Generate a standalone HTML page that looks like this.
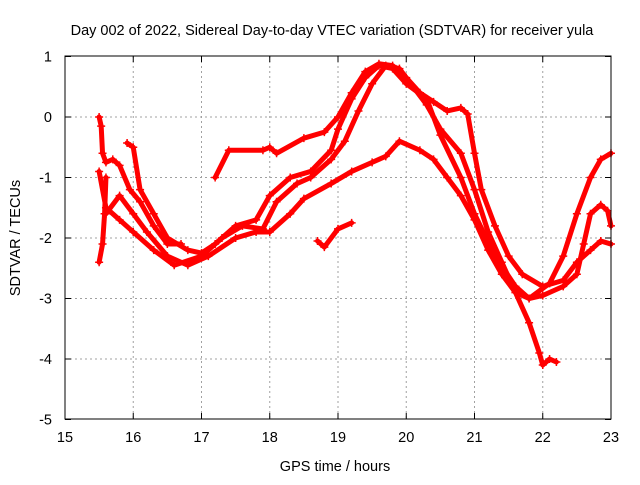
<!DOCTYPE html>
<html><head><meta charset="utf-8"><style>
body{margin:0;background:#fff;}
svg{font-family:"Liberation Sans",sans-serif;}
</style></head><body>
<svg id="chart" width="640" height="480">
<text x="332" y="35" font-size="14.5" text-anchor="middle">Day 002 of 2022, Sidereal Day-to-day VTEC variation (SDTVAR) for receiver yula</text>
<text x="335" y="471" font-size="14.5" text-anchor="middle">GPS time / hours</text>
<text x="20" y="238" font-size="14.5" text-anchor="middle" transform="rotate(-90 20 238)">SDTVAR / TECUs</text>
<g id="grid"></g>
<g id="ticks"></g>
<g id="marks"></g>
<rect x="65" y="56" width="546" height="363" fill="none" stroke="#000" stroke-width="1"/>
</svg>
<script>
const xTicks=[15,16,17,18,19,20,21,22,23];
const yTicks=[1,0,-1,-2,-3,-4,-5];
const traceA=[[17.2,-1.0],[17.4,-0.55],[17.9,-0.55],[18.0,-0.5],[18.1,-0.6],[18.5,-0.35],[18.8,-0.25],[19.0,0.0],[19.2,0.4],[19.4,0.75],[19.6,0.88],[19.8,0.85],[20.0,0.65],[20.2,0.4],[20.4,0.25],[20.6,0.1],[20.8,0.15],[20.9,0.05],[21.0,-0.6],[21.1,-1.2],[21.3,-1.8],[21.5,-2.3],[21.7,-2.6],[22.0,-2.8],[22.3,-2.7],[22.5,-2.4],[22.7,-2.2],[22.85,-2.05],[23.0,-2.1]];
const traceB=[[15.5,-0.9],[15.6,-1.5],[15.8,-1.7],[16.0,-1.9],[16.3,-2.2],[16.6,-2.45],[17.0,-2.3],[17.3,-2.0],[17.6,-1.8],[17.9,-1.85],[18.1,-1.4],[18.4,-1.1],[18.6,-1.0],[18.9,-0.7],[19.1,-0.4],[19.3,0.1],[19.5,0.55],[19.7,0.85],[19.9,0.8],[20.1,0.5],[20.3,0.2],[20.5,-0.2],[20.8,-0.6],[21.0,-1.2],[21.2,-1.9],[21.4,-2.4],[21.6,-2.9],[21.8,-3.4],[21.95,-3.9],[22.0,-4.1],[22.1,-4.0],[22.2,-4.05]];
const traceC=[[15.6,-1.6],[15.8,-1.3],[16.0,-1.6],[16.2,-1.9],[16.5,-2.3],[16.8,-2.45],[17.1,-2.3],[17.5,-2.0],[17.8,-1.9],[18.0,-1.9],[18.3,-1.6],[18.5,-1.35],[18.9,-1.1],[19.2,-0.9],[19.5,-0.75],[19.7,-0.65],[19.9,-0.4],[20.2,-0.55],[20.4,-0.7],[20.6,-1.0],[20.8,-1.3],[21.0,-1.7],[21.2,-2.2],[21.4,-2.6],[21.6,-2.9],[21.8,-3.0],[22.0,-2.95],[22.3,-2.8],[22.5,-2.6],[22.6,-2.1],[22.7,-1.6],[22.85,-1.45],[22.95,-1.55],[23.0,-1.8]];
const traceD=[[15.91,-0.43],[16.0,-0.5],[16.1,-1.2],[16.3,-1.6],[16.5,-2.0],[16.8,-2.2],[17.0,-2.25],[17.2,-2.1],[17.5,-1.8],[17.8,-1.7],[18.0,-1.3],[18.3,-1.0],[18.6,-0.9],[18.9,-0.55],[19.0,-0.2],[19.2,0.3],[19.4,0.65],[19.6,0.85],[19.8,0.8],[20.0,0.55],[20.3,0.3],[20.5,-0.3],[20.8,-1.0],[21.0,-1.6],[21.3,-2.3],[21.6,-2.8],[21.8,-3.0],[22.1,-2.75],[22.3,-2.3],[22.5,-1.6],[22.7,-1.0],[22.85,-0.7],[23.0,-0.6]];
const traceE=[[18.7,-2.05],[18.8,-2.15],[19.0,-1.85],[19.2,-1.75]];
const traceF=[[15.5,0.0],[15.53,-0.15],[15.55,-0.6],[15.6,-0.75],[15.7,-0.7],[15.8,-0.8],[15.95,-1.2],[16.1,-1.4],[16.3,-1.8],[16.5,-2.1],[16.7,-2.1]];
const traceG=[[15.5,-2.4],[15.55,-2.1],[15.58,-1.6],[15.6,-1.0]];
const traces=[traceA,traceB,traceC,traceD,traceE,traceF,traceG];
const X=h=>65+(h-15)*68.25;
const Y=v=>117-v*60.5;
const NS="http://www.w3.org/2000/svg";
const grid=document.getElementById('grid'),ticks=document.getElementById('ticks'),marks=document.getElementById('marks');
function mk(t,a,p){const e=document.createElementNS(NS,t);for(const k in a)e.setAttribute(k,a[k]);p.appendChild(e);return e;}
xTicks.forEach(t=>{const x=X(t);
 if(t>15&&t<23){const g=mk('line',{x1:x,y1:56,x2:x,y2:419,stroke:'#a0a0a0','stroke-dasharray':'2,3'},grid);
 
 }
 mk('line',{x1:x,y1:419,x2:x,y2:413,stroke:'#000'},ticks);mk('line',{x1:x,y1:56,x2:x,y2:62,stroke:'#000'},ticks);
 const l=mk('text',{x:x,y:442,'font-size':14.5,'text-anchor':'middle'},ticks);l.textContent=t;
 
 });
yTicks.forEach(t=>{const y=Y(t);
 if(t<1&&t>-5){const g=mk('line',{x1:65,y1:y,x2:611,y2:y,stroke:'#a0a0a0','stroke-dasharray':'2,3'},grid);
 
 }
 mk('line',{x1:65,y1:y,x2:71,y2:y,stroke:'#000'},ticks);mk('line',{x1:611,y1:y,x2:605,y2:y,stroke:'#000'},ticks);
 const l=mk('text',{x:52,y:y+5,'font-size':14.5,'text-anchor':'end'},ticks);l.textContent=t;
 
 });
traces.forEach((tr,i)=>{
 const g=mk('g',{},marks);
 
 
 mk('polyline',{points:tr.map(p=>X(p[0])+','+Y(p[1])).join(' '),fill:'none',stroke:'#ff0000','stroke-width':5,'stroke-linejoin':'round','stroke-linecap':'round'},g);
 tr.forEach(p=>{const x=X(p[0]),y=Y(p[1]);
  mk('path',{d:`M${x-4},${y}h8M${x},${y-4}v8`,stroke:'#ff0000','stroke-width':1.5},g);});
});
</script>
</body></html>
